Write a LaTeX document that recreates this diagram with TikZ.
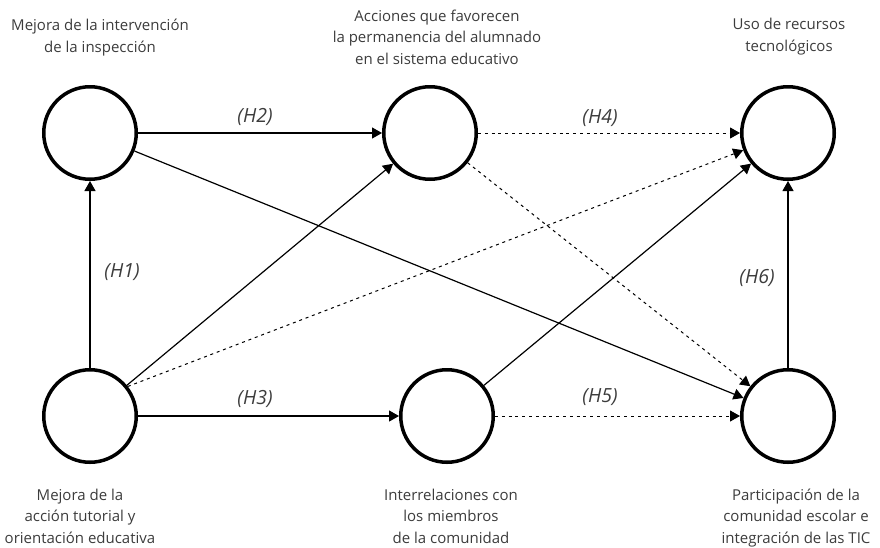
\documentclass[tikz,border=0pt]{standalone}
\usepackage{fontspec}
\setmainfont{Open Sans}
\usetikzlibrary{arrows.meta}
\definecolor{txt}{HTML}{3C3C3C}
\begin{document}
\begin{tikzpicture}[x=1pt,y=-1pt,
  var/.style={circle,draw,line width=3.5pt,minimum size=92.5pt,inner sep=0pt},
  conn/.style={line width=1.2pt,-{Triangle[length=10pt,width=11pt]}},
  dotconn/.style={conn,line width=1pt,dash pattern=on 3pt off 3.8pt},
  lbl/.style={text=txt,font=\fontsize{15}{21.5}\selectfont,align=center,anchor=base,inner sep=0pt},
  hyp/.style={text=txt,font=\fontsize{19.5}{21}\selectfont\itshape,inner sep=0pt}]
\useasboundingbox (0,0) rectangle (880,547);
% variables
\node[var] (TL) at (90,133) {};
\node[var] (TM) at (430,133) {};
\node[var] (TR) at (788,133) {};
\node[var] (BL) at (90,416) {};
\node[var] (BM) at (447,416) {};
\node[var] (BR) at (788,416) {};
% labels (anchor = baseline of last line)
\node[lbl] (tTL) at (100,52) {Mejora de la intervención\\de la inspección};
\node[lbl] (tTM) at (437,64) {Acciones que favorecen\\la permanencia del alumnado\\en el sistema educativo};
\node[lbl] (tTR) at (789,51) {Uso de recursos\\tecnológicos};
\node[lbl] (tBL) at (80,543) {Mejora de la\\acción tutorial y\\orientación educativa};
\node[lbl] (tBM) at (451,543) {Interrelaciones con\\los miembros\\de la comunidad};
\node[lbl] (tBR) at (796,543) {Participación de la\\comunidad escolar e\\integración de las TIC};
% connectors
\draw[conn] (BL) -- (TL);
\draw[conn] (TL) -- (TM);
\draw[conn] (BL) -- (BM);
\draw[dotconn] (TM) -- (TR);
\draw[dotconn] (BM) -- (BR);
\draw[conn] (BR) -- (TR);
\draw[conn] (BL) -- (TM);
\draw[dotconn] (BL.38) -- (TR);
\draw[conn] (BM) -- (TR);
\draw[conn] (TL) -- (BR);
\draw[dotconn] (TM) -- (BR);
% hypotheses
\node[hyp] (h1) at (122,272) {(H1)};
\node[hyp] (h2) at (255,117) {(H2)};
\node[hyp] (h3) at (255,399) {(H3)};
\node[hyp] (h4) at (600,118) {(H4)};
\node[hyp] (h5) at (600,397) {(H5)};
\node[hyp] (h6) at (757,278) {(H6)};
\end{tikzpicture}
\end{document}
